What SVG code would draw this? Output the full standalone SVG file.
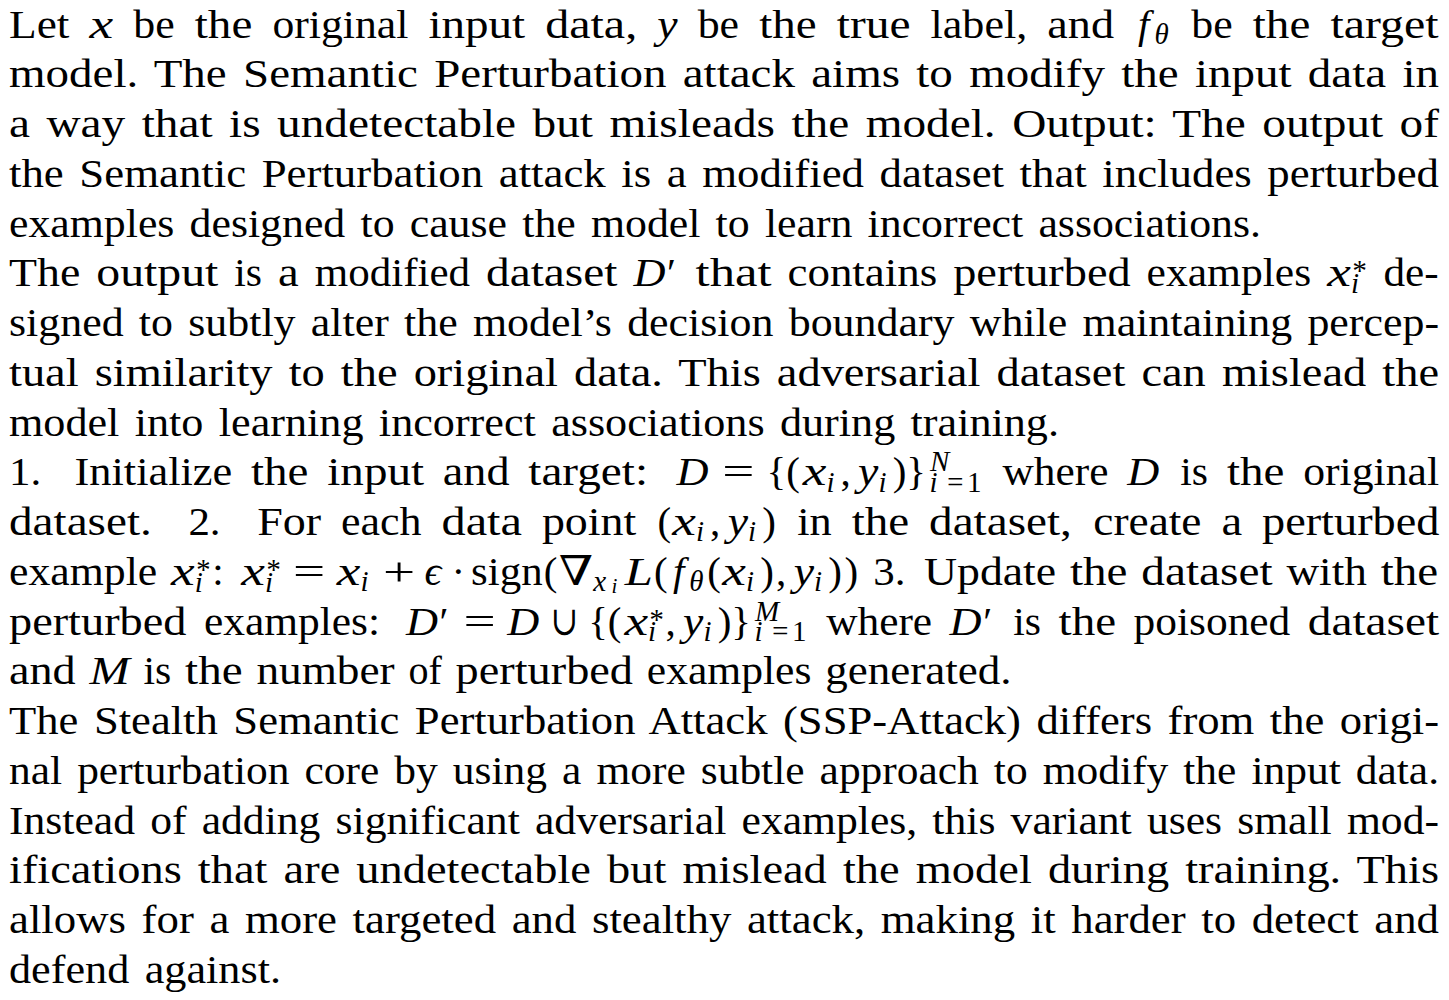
<svg xmlns="http://www.w3.org/2000/svg" width="1449" height="1000" viewBox="0 0 1449 1000">
<style>
text{font-family:"Liberation Serif","DejaVu Serif",serif;font-size:41px;fill:#000;word-spacing:4px}
.i{font-style:italic}
.s{font-size:29px}
.ss{font-size:21px}
</style>
<rect width="1449" height="1000" fill="#fff"/>
<g id="line01">
<text x="9" y="37.7" textLength="60.4" lengthAdjust="spacingAndGlyphs">Let</text>
<text class="i" x="89.5" y="37.7" textLength="23.7" lengthAdjust="spacingAndGlyphs">x</text>
<text x="133.3" y="37.7" textLength="41.4" lengthAdjust="spacingAndGlyphs">be</text>
<text x="194.8" y="37.7" textLength="57.5" lengthAdjust="spacingAndGlyphs">the</text>
<text x="272.4" y="37.7" textLength="135.9" lengthAdjust="spacingAndGlyphs">original</text>
<text x="428.4" y="37.7" textLength="96.7" lengthAdjust="spacingAndGlyphs">input</text>
<text x="545.2" y="37.7" textLength="92" lengthAdjust="spacingAndGlyphs">data,</text>
<text class="i" x="657.3" y="37.7" textLength="20.3" lengthAdjust="spacingAndGlyphs">y</text>
<text x="697.7" y="37.7" textLength="41.4" lengthAdjust="spacingAndGlyphs">be</text>
<text x="759.2" y="37.7" textLength="57.5" lengthAdjust="spacingAndGlyphs">the</text>
<text x="836.8" y="37.7" textLength="73.7" lengthAdjust="spacingAndGlyphs">true</text>
<text x="930.6" y="37.7" textLength="96.6" lengthAdjust="spacingAndGlyphs">label,</text>
<text x="1047.3" y="37.7" textLength="66.7" lengthAdjust="spacingAndGlyphs">and</text>
<text class="i" x="1138" y="37.7">f<tspan class="s" x="1154.4" y="43.9">θ</tspan></text>
<text x="1191.3" y="37.7" textLength="41.4" lengthAdjust="spacingAndGlyphs">be</text>
<text x="1252.8" y="37.7" textLength="57.5" lengthAdjust="spacingAndGlyphs">the</text>
<text x="1330.4" y="37.7" textLength="108.2" lengthAdjust="spacingAndGlyphs">target</text>
</g>
<g id="line02"><text x="9" y="87.4" textLength="1430" lengthAdjust="spacingAndGlyphs">model. The Semantic Perturbation attack aims to modify the input data in</text></g>
<g id="line03"><text x="9" y="137.2" textLength="1430" lengthAdjust="spacingAndGlyphs">a way that is undetectable but misleads the model. Output: The output of</text></g>
<g id="line04"><text x="9" y="186.9" textLength="1430" lengthAdjust="spacingAndGlyphs">the Semantic Perturbation attack is a modified dataset that includes perturbed</text></g>
<g id="line05"><text x="9" y="236.7" textLength="1252" lengthAdjust="spacingAndGlyphs">examples designed to cause the model to learn incorrect associations.</text></g>
<g id="line06">
<text x="9" y="286.4" textLength="71.3" lengthAdjust="spacingAndGlyphs">The</text>
<text x="96.3" y="286.4" textLength="122" lengthAdjust="spacingAndGlyphs">output</text>
<text x="234.3" y="286.4" textLength="27.8" lengthAdjust="spacingAndGlyphs">is</text>
<text x="278.1" y="286.4" textLength="20.7" lengthAdjust="spacingAndGlyphs">a</text>
<text x="314.8" y="286.4" textLength="155.3" lengthAdjust="spacingAndGlyphs">modified</text>
<text x="486.1" y="286.4" textLength="131.3" lengthAdjust="spacingAndGlyphs">dataset</text>
<text x="633.4" y="286.4"><tspan class="i" textLength="32" lengthAdjust="spacingAndGlyphs">D</tspan><tspan x="667" y="286.4">′</tspan></text>
<text x="695.6" y="286.4" textLength="75.9" lengthAdjust="spacingAndGlyphs">that</text>
<text x="787.5" y="286.4" textLength="149.7" lengthAdjust="spacingAndGlyphs">contains</text>
<text x="953.2" y="286.4" textLength="177.4" lengthAdjust="spacingAndGlyphs">perturbed</text>
<text x="1146.6" y="286.4" textLength="164.6" lengthAdjust="spacingAndGlyphs">examples</text>
<text x="1327.2" y="286.4"><tspan class="i" textLength="23.7" lengthAdjust="spacingAndGlyphs">x</tspan><tspan class="s i" x="1350.9 1350.9" y="280.4 293.2">*i</tspan></text>
<text x="1383.4" y="286.4" textLength="55.2" lengthAdjust="spacingAndGlyphs">de-</text>
</g>
<g id="line07"><text x="9" y="336.1" textLength="1430" lengthAdjust="spacingAndGlyphs">signed to subtly alter the model’s decision boundary while maintaining percep-</text></g>
<g id="line08"><text x="9" y="385.9" textLength="1430" lengthAdjust="spacingAndGlyphs">tual similarity to the original data. This adversarial dataset can mislead the</text></g>
<g id="line09"><text x="9" y="435.6" textLength="1050" lengthAdjust="spacingAndGlyphs">model into learning incorrect associations during training.</text></g>
<g id="line10">
<text x="9" y="485.4" textLength="32.2" lengthAdjust="spacingAndGlyphs">1.</text>
<text x="74.6" y="485.4" textLength="157.6" lengthAdjust="spacingAndGlyphs">Initialize</text>
<text x="251" y="485.4" textLength="57.5" lengthAdjust="spacingAndGlyphs">the</text>
<text x="327.3" y="485.4" textLength="96.7" lengthAdjust="spacingAndGlyphs">input</text>
<text x="442.8" y="485.4" textLength="66.7" lengthAdjust="spacingAndGlyphs">and</text>
<text x="528.3" y="485.4" textLength="119.7" lengthAdjust="spacingAndGlyphs">target:</text>
<text class="i" x="676.4" y="485.4" textLength="32" lengthAdjust="spacingAndGlyphs">D</text>
<text x="722.2" y="485.4" textLength="32.2" lengthAdjust="spacingAndGlyphs">=</text>
<text x="766.5" y="485.4">{(</text>
<text x="802.7" y="485.4"><tspan class="i" textLength="23.7" lengthAdjust="spacingAndGlyphs">x</tspan><tspan class="i s" x="826.4" y="491.6">i</tspan><tspan x="840.5" y="485.4">,</tspan></text>
<text x="858.1" y="485.4"><tspan class="i" textLength="20.3" lengthAdjust="spacingAndGlyphs">y</tspan><tspan class="i s" x="878.4" y="491.6">i</tspan><tspan x="892.7" y="485.4">)}</tspan></text>
<text class="s"><tspan class="i" x="930 929.5 945.2" y="471 492 492">Ni=</tspan><tspan x="967" y="492">1</tspan></text>
<text x="1002.5" y="485.4" textLength="105.9" lengthAdjust="spacingAndGlyphs">where</text>
<text class="i" x="1127.2" y="485.4" textLength="32" lengthAdjust="spacingAndGlyphs">D</text>
<text x="1180.3" y="485.4" textLength="27.8" lengthAdjust="spacingAndGlyphs">is</text>
<text x="1226.9" y="485.4" textLength="57.5" lengthAdjust="spacingAndGlyphs">the</text>
<text x="1303.2" y="485.4" textLength="135.9" lengthAdjust="spacingAndGlyphs">original</text>
</g>
<g id="line11">
<text x="9" y="535.1" textLength="142.8" lengthAdjust="spacingAndGlyphs">dataset.</text>
<text x="188.4" y="535.1" textLength="32.2" lengthAdjust="spacingAndGlyphs">2.</text>
<text x="257.2" y="535.1" textLength="64" lengthAdjust="spacingAndGlyphs">For</text>
<text x="341.1" y="535.1" textLength="80.5" lengthAdjust="spacingAndGlyphs">each</text>
<text x="441.5" y="535.1" textLength="80.5" lengthAdjust="spacingAndGlyphs">data</text>
<text x="541.9" y="535.1" textLength="94.4" lengthAdjust="spacingAndGlyphs">point</text>
<text x="657.4" y="535.1">(</text>
<text x="672.3" y="535.1"><tspan class="i" textLength="23.7" lengthAdjust="spacingAndGlyphs">x</tspan><tspan class="i s" x="696" y="541.3">i</tspan><tspan x="710.1" y="535.1">,</tspan></text>
<text x="727.7" y="535.1"><tspan class="i" textLength="20.3" lengthAdjust="spacingAndGlyphs">y</tspan><tspan class="i s" x="748" y="541.3">i</tspan><tspan x="762.3" y="535.1">)</tspan></text>
<text x="797.3" y="535.1" textLength="34.5" lengthAdjust="spacingAndGlyphs">in</text>
<text x="851.7" y="535.1" textLength="57.5" lengthAdjust="spacingAndGlyphs">the</text>
<text x="929.1" y="535.1" textLength="142.8" lengthAdjust="spacingAndGlyphs">dataset,</text>
<text x="1093.3" y="535.1" textLength="108.2" lengthAdjust="spacingAndGlyphs">create</text>
<text x="1221.4" y="535.1" textLength="20.7" lengthAdjust="spacingAndGlyphs">a</text>
<text x="1262" y="535.1" textLength="177.4" lengthAdjust="spacingAndGlyphs">perturbed</text>
</g>
<g id="line12">
<text x="9" y="584.8" textLength="148.3" lengthAdjust="spacingAndGlyphs">example</text>
<text x="171.1" y="584.8"><tspan class="i" textLength="23.7" lengthAdjust="spacingAndGlyphs">x</tspan><tspan class="s i" x="194.8 194.8" y="578.8 591.6">*i</tspan><tspan x="212.2" y="584.8">:</tspan></text>
<text x="241.3" y="584.8"><tspan class="i" textLength="23.7" lengthAdjust="spacingAndGlyphs">x</tspan><tspan class="s i" x="265 265" y="578.8 591.6">*i</tspan></text>
<text x="293.1" y="584.8" textLength="32.2" lengthAdjust="spacingAndGlyphs">=</text>
<text x="336.8" y="584.8"><tspan class="i" textLength="23.7" lengthAdjust="spacingAndGlyphs">x</tspan><tspan class="i s" x="360.5" y="591">i</tspan></text>
<text x="383" y="584.8" textLength="32.2" lengthAdjust="spacingAndGlyphs">+</text>
<text class="i" x="424.4" y="584.8" textLength="16.8" lengthAdjust="spacingAndGlyphs">ϵ</text>
<text x="451.5" y="584.8">·</text>
<text x="471.1" y="584.8"><tspan textLength="71.5" lengthAdjust="spacingAndGlyphs">sign</tspan><tspan x="543.8" y="584.8">(</tspan></text>
<text x="558.7" y="584.8"><tspan textLength="34.5" lengthAdjust="spacingAndGlyphs">∇</tspan><tspan class="i s" x="593.2" y="591">x</tspan><tspan class="i ss" x="611.5" y="593">i</tspan></text>
<text x="624.7" y="584.8"><tspan class="i" textLength="28.2" lengthAdjust="spacingAndGlyphs">L</tspan><tspan x="654.1" y="584.8">(</tspan></text>
<text class="i" x="673" y="584.8">f<tspan class="s" x="689.3" y="591">θ</tspan><tspan style="font-style:normal" x="707.3" y="584.8">(</tspan></text>
<text x="722.2" y="584.8"><tspan class="i" textLength="23.7" lengthAdjust="spacingAndGlyphs">x</tspan><tspan class="i s" x="745.9" y="591">i</tspan><tspan x="760.2" y="584.8">)</tspan><tspan x="776.1" y="584.8">,</tspan></text>
<text x="793.7" y="584.8"><tspan class="i" textLength="20.3" lengthAdjust="spacingAndGlyphs">y</tspan><tspan class="i s" x="814" y="591">i</tspan><tspan x="828.3" y="584.8">)</tspan><tspan x="844.4" y="584.8">)</tspan></text>
<text x="873.3" y="584.8" textLength="32.2" lengthAdjust="spacingAndGlyphs">3.</text>
<text x="923.9" y="584.8" textLength="132.3" lengthAdjust="spacingAndGlyphs">Update</text>
<text x="1070" y="584.8" textLength="57.5" lengthAdjust="spacingAndGlyphs">the</text>
<text x="1141.3" y="584.8" textLength="131.3" lengthAdjust="spacingAndGlyphs">dataset</text>
<text x="1286.4" y="584.8" textLength="80.5" lengthAdjust="spacingAndGlyphs">with</text>
<text x="1380.7" y="584.8" textLength="57.5" lengthAdjust="spacingAndGlyphs">the</text>
</g>
<g id="line13">
<text x="9" y="634.6" textLength="177.4" lengthAdjust="spacingAndGlyphs">perturbed</text>
<text x="203.9" y="634.6" textLength="176.2" lengthAdjust="spacingAndGlyphs">examples:</text>
<text x="405.9" y="634.6"><tspan class="i" textLength="32" lengthAdjust="spacingAndGlyphs">D</tspan><tspan x="439.5" y="634.6">′</tspan></text>
<text x="463.6" y="634.6" textLength="32.2" lengthAdjust="spacingAndGlyphs">=</text>
<text class="i" x="507.3" y="634.6" textLength="32" lengthAdjust="spacingAndGlyphs">D</text>
<text x="550.8" y="634.6" textLength="27.6" lengthAdjust="spacingAndGlyphs">∪</text>
<text x="588.2" y="634.6">{(</text>
<text x="624.4" y="634.6"><tspan class="i" textLength="23.7" lengthAdjust="spacingAndGlyphs">x</tspan><tspan class="s i" x="648.1 648.1" y="628.6 641.4">*i</tspan><tspan x="665.5" y="634.6">,</tspan></text>
<text x="683.1" y="634.6"><tspan class="i" textLength="20.3" lengthAdjust="spacingAndGlyphs">y</tspan><tspan class="i s" x="703.4" y="640.8">i</tspan><tspan x="717.7" y="634.6">)}</tspan></text>
<text class="s"><tspan class="i" x="755 754.5 770.2" y="620.5 641.3 641.3">Mi=</tspan><tspan x="792" y="641.3">1</tspan></text>
<text x="826.2" y="634.6" textLength="105.9" lengthAdjust="spacingAndGlyphs">where</text>
<text x="949.6" y="634.6"><tspan class="i" textLength="32" lengthAdjust="spacingAndGlyphs">D</tspan><tspan x="983.2" y="634.6">′</tspan></text>
<text x="1013.3" y="634.6" textLength="27.8" lengthAdjust="spacingAndGlyphs">is</text>
<text x="1058.6" y="634.6" textLength="57.5" lengthAdjust="spacingAndGlyphs">the</text>
<text x="1133.6" y="634.6" textLength="156.7" lengthAdjust="spacingAndGlyphs">poisoned</text>
<text x="1307.8" y="634.6" textLength="131.3" lengthAdjust="spacingAndGlyphs">dataset</text>
</g>
<g id="line14">
<text x="9" y="684.3" textLength="66.7" lengthAdjust="spacingAndGlyphs">and</text>
<text class="i" x="89.5" y="684.3" textLength="40.2" lengthAdjust="spacingAndGlyphs">M</text>
<text x="143.5" y="684.3" textLength="27.8" lengthAdjust="spacingAndGlyphs">is</text>
<text x="185.1" y="684.3" textLength="57.5" lengthAdjust="spacingAndGlyphs">the</text>
<text x="256.4" y="684.3" textLength="138.2" lengthAdjust="spacingAndGlyphs">number</text>
<text x="408.4" y="684.3" textLength="33.4" lengthAdjust="spacingAndGlyphs">of</text>
<text x="455.6" y="684.3" textLength="177.4" lengthAdjust="spacingAndGlyphs">perturbed</text>
<text x="646.8" y="684.3" textLength="164.6" lengthAdjust="spacingAndGlyphs">examples</text>
<text x="825.2" y="684.3" textLength="186.4" lengthAdjust="spacingAndGlyphs">generated.</text>
</g>
<g id="line15"><text x="9" y="734.1" textLength="1430" lengthAdjust="spacingAndGlyphs">The Stealth Semantic Perturbation Attack (SSP-Attack) differs from the origi-</text></g>
<g id="line16"><text x="9" y="783.8" textLength="1430" lengthAdjust="spacingAndGlyphs">nal perturbation core by using a more subtle approach to modify the input data.</text></g>
<g id="line17"><text x="9" y="833.5" textLength="1430" lengthAdjust="spacingAndGlyphs">Instead of adding significant adversarial examples, this variant uses small mod-</text></g>
<g id="line18"><text x="9" y="883.3" textLength="1430" lengthAdjust="spacingAndGlyphs">ifications that are undetectable but mislead the model during training. This</text></g>
<g id="line19"><text x="9" y="933" textLength="1430" lengthAdjust="spacingAndGlyphs">allows for a more targeted and stealthy attack, making it harder to detect and</text></g>
<g id="line20"><text x="9" y="982.8" textLength="272" lengthAdjust="spacingAndGlyphs">defend against.</text></g>
</svg>
